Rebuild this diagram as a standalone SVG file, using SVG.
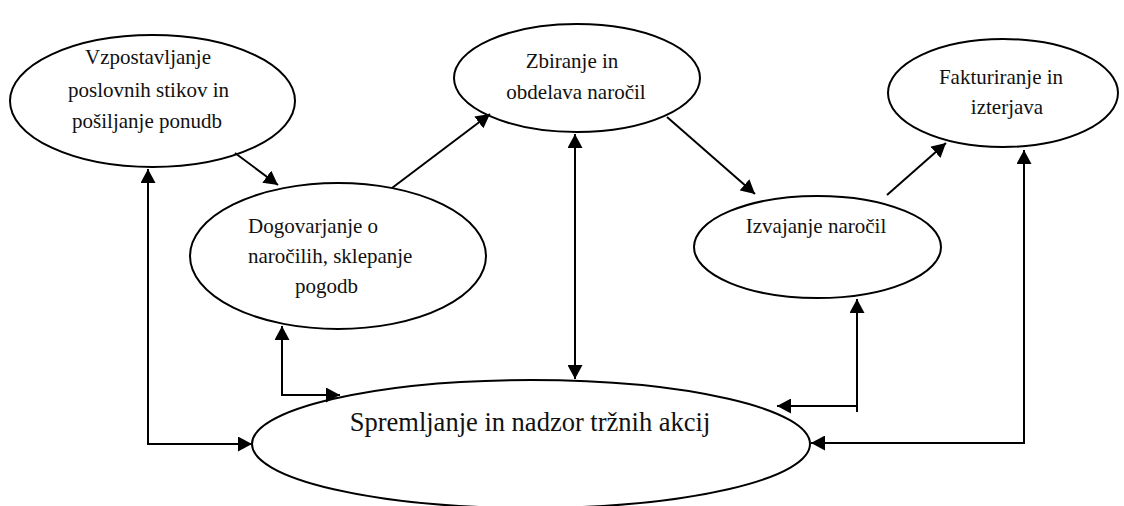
<svg xmlns="http://www.w3.org/2000/svg" width="1124" height="506" viewBox="0 0 1124 506">
  <style>
    .node ellipse { fill: #ffffff; stroke: #000000; stroke-width: 2; }
    .node text { font-family: "Liberation Serif", "Times New Roman", serif; font-size: 21px; fill: #111111; }
    .node text.big { font-size: 26.5px; }
    .mid { text-anchor: middle; }
    #connectors path, #connectors line { fill: none; stroke: #000000; stroke-width: 2; }
    .end { marker-end: url(#arrow); }
    .both { marker-start: url(#arrow); marker-end: url(#arrow); }
  </style>
  <defs>
    <marker id="arrow" markerUnits="userSpaceOnUse" markerWidth="15" markerHeight="15" refX="14" refY="7.5" orient="auto-start-reverse" viewBox="0 0 15 15">
      <path d="M0,0 L14,7.5 L0,15 Z" fill="#000000"/>
    </marker>
  </defs>

  <rect width="1124" height="506" fill="#ffffff"/>

  <!-- process nodes -->
  <g id="vzpostavljanje" class="node">
    <ellipse cx="152.5" cy="101" rx="142.5" ry="66"/>
    <text class="mid" x="148" y="64">Vzpostavljanje</text>
    <text class="mid" x="148.5" y="97">poslovnih stikov in</text>
    <text class="mid" x="147" y="128">pošiljanje ponudb</text>
  </g>

  <g id="dogovarjanje" class="node">
    <ellipse cx="338" cy="256" rx="148" ry="73"/>
    <text x="248" y="233">Dogovarjanje o</text>
    <text x="248" y="263">naročilih, sklepanje</text>
    <text x="295" y="293">pogodb</text>
  </g>

  <g id="zbiranje" class="node">
    <ellipse cx="577" cy="78" rx="123" ry="54"/>
    <text class="mid" x="572" y="68">Zbiranje in</text>
    <text class="mid" x="576" y="99">obdelava naročil</text>
  </g>

  <g id="izvajanje" class="node">
    <ellipse cx="817.5" cy="247" rx="123.5" ry="51"/>
    <text class="mid" x="816" y="233">Izvajanje naročil</text>
  </g>

  <g id="fakturiranje" class="node">
    <ellipse cx="1003" cy="93" rx="115" ry="54"/>
    <text class="mid" x="1001" y="84">Fakturiranje in</text>
    <text class="mid" x="1007" y="114">izterjava</text>
  </g>

  <g id="spremljanje" class="node">
    <ellipse cx="531" cy="444" rx="279" ry="64"/>
    <text class="mid big" x="530" y="431">Spremljanje in nadzor tržnih akcij</text>
  </g>

  <!-- connectors -->
  <g id="connectors">
    <line class="end" x1="235" y1="153" x2="278" y2="185"/>
    <line class="end" x1="392" y1="188" x2="490" y2="114"/>
    <line class="both" x1="575" y1="134" x2="575" y2="379"/>
    <line class="end" x1="667" y1="117" x2="755" y2="194"/>
    <line class="end" x1="887" y1="195" x2="946" y2="143"/>
    <path class="both" d="M148,169 L148,444 L252,444"/>
    <path class="both" d="M282,326 L282,395 L340,395"/>
    <line class="end" x1="857" y1="412" x2="857" y2="299"/>
    <line class="end" x1="856" y1="406" x2="777" y2="406"/>
    <path class="both" d="M1024,150 L1024,443 L811,443"/>
  </g>
</svg>
